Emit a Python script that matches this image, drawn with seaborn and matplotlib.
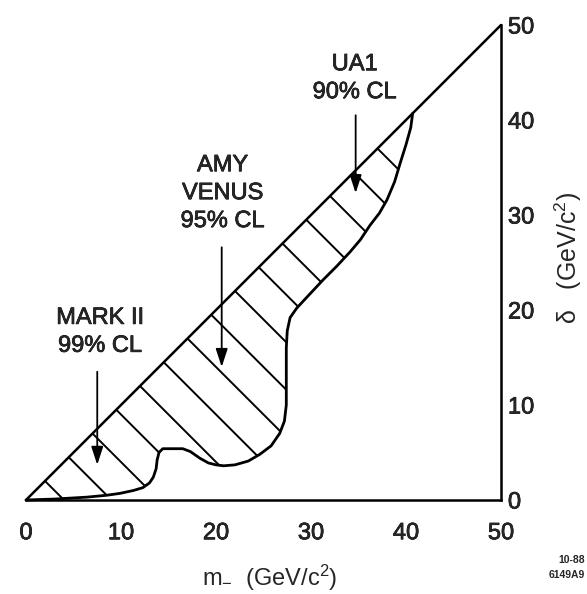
import numpy as np
import matplotlib
matplotlib.use("Agg")
import matplotlib.pyplot as plt
import matplotlib.patheffects as pe
import seaborn as sns
import pandas as pd

# Diagonal boundary delta = m
diag_x = [0, 50]
diag_y = [0, 50]

# Lower edge of the excluded region
lower_x = [0, 3, 6.4, 8.5, 9.9, 11.3, 12.3, 13.0, 13.4, 13.7, 13.8, 14.0, 14.4,
           15.5, 16.5, 17.3, 18.3, 19.2, 20.0, 20.8, 22.0, 23.4, 24.6, 25.8,
           26.7, 27.2, 27.4, 27.4, 27.4, 27.5, 27.8, 28.5, 29.8, 31.3, 32.7,
           34.1, 35.2, 36.2, 37.2, 38.0, 38.8, 39.4, 40.0, 40.5, 40.7]
lower_y = [0, 0.1, 0.3, 0.5, 0.7, 1.0, 1.3, 1.8, 2.4, 3.3, 4.2, 5.0, 5.4,
           5.4, 5.4, 5.1, 4.4, 3.9, 3.7, 3.6, 3.7, 4.1, 4.8, 5.7,
           7.0, 8.3, 10.0, 13.0, 16.0, 17.8, 19.2, 20.2, 21.6, 23.2, 24.6,
           26.1, 27.4, 28.9, 30.2, 31.6, 33.5, 35.5, 37.4, 39.2, 40.7]

ticks = [0, 10, 20, 30, 40, 50]
labels = ["UA1\n90% CL", "AMY\nVENUS\n95% CL", "MARK II\n99% CL"]

sns.set_style("white")
plt.rcParams['font.family'] = ['Liberation Sans', 'DejaVu Sans']
plt.rcParams['mathtext.fontset'] = 'custom'
plt.rcParams['mathtext.rm'] = 'Liberation Sans'
plt.rcParams['mathtext.it'] = 'Liberation Sans'

fig = plt.figure(figsize=(5.87, 5.94), dpi=100)
ax = fig.add_axes([26 / 587, 1 - 500 / 594, 475 / 587, 475 / 594])

# region polygon: lower curve up to the diagonal, then back down the diagonal
poly_x = lower_x + [0]
poly_y = lower_y + [0]
region = ax.fill(poly_x, poly_y, facecolor='none', edgecolor='none')[0]

# hatching perpendicular to the diagonal
for c in np.arange(4, 75, 5):
    ln, = ax.plot([0, c], [c, 0], color='black', lw=1.4)
    ln.set_clip_path(region)

n_hatch = len(ax.lines)
curve = pd.DataFrame({'x': lower_x, 'y': lower_y})
sns.lineplot(data=curve, x='x', y='y', sort=False, estimator=None,
             color='black', lw=2.0, ax=ax)
sns.lineplot(x=diag_x, y=diag_y, color='black', lw=1.8, ax=ax)
for l in ax.lines[n_hatch:]:
    l.set_clip_on(False)

# labels with arrows
fs = 17
arrow = dict(arrowstyle='-|>,head_length=0.55,head_width=0.18',
             color='black', lw=1.3, mutation_scale=20, shrinkA=0, shrinkB=0)
ax.text(34.6, 44.4, labels[0], ha='center', va='center', fontsize=fs, linespacing=1.35)
ax.annotate('', xy=(34.7, 32.3), xytext=(34.7, 40.5), arrowprops=arrow)
ax.text(20.7, 32.3, labels[1], ha='center', va='center', fontsize=fs, linespacing=1.35)
ax.annotate('', xy=(20.6, 14.0), xytext=(20.6, 26.6), arrowprops=arrow)
ax.text(7.8, 17.7, labels[2], ha='center', va='center', fontsize=fs, linespacing=1.35)
ax.annotate('', xy=(7.5, 3.7), xytext=(7.5, 13.5), arrowprops=arrow)

ax.set_xlim(0, 50)
ax.set_ylim(0, 50)
ax.set_xticks(ticks)
ax.set_yticks(ticks)
ax.set_xticks(ticks[1:-1], minor=True)
ax.set_yticks(ticks[1:-1], minor=True)
ax.yaxis.tick_right()
ax.yaxis.set_label_position('right')
ax.tick_params(axis='both', which='major', length=0, labelsize=fs)
ax.tick_params(axis='x', which='major', pad=16)
ax.tick_params(axis='y', which='major', pad=5)
ax.tick_params(axis='x', which='minor', direction='in', length=13, width=1.4, bottom=True)
ax.tick_params(axis='y', which='minor', direction='in', length=14, width=1.4,
               right=True, left=False)

for side in ['left', 'top']:
    ax.spines[side].set_visible(False)
for side in ['bottom', 'right']:
    ax.spines[side].set_linewidth(1.8)
    ax.spines[side].set_color('black')

ax.set_xlabel(r'm$_{-}$  (GeV/c$^2$)', fontsize=fs)
ax.set_ylabel(r'$\delta$   (GeV/c$^2$)', fontsize=fs + 1, rotation=90)
ax.xaxis.set_label_coords(0.514, -0.164)
ax.xaxis.label.set_va('center')
ax.yaxis.set_label_coords(1.141, 0.51)
ax.yaxis.label.set_va('center')

# slightly heavier strokes, like the printed original
heavy = [pe.withStroke(linewidth=0.5, foreground='black')]
for t in ax.texts + ax.get_xticklabels() + ax.get_yticklabels():
    t.set_path_effects(heavy)

fig.text(585 / 587, 0.0446, "10-88\n6149A9", ha='right', va='center',
         fontsize=7.5, fontweight='bold', linespacing=1.6)

fig.savefig('out.png', dpi=100)
